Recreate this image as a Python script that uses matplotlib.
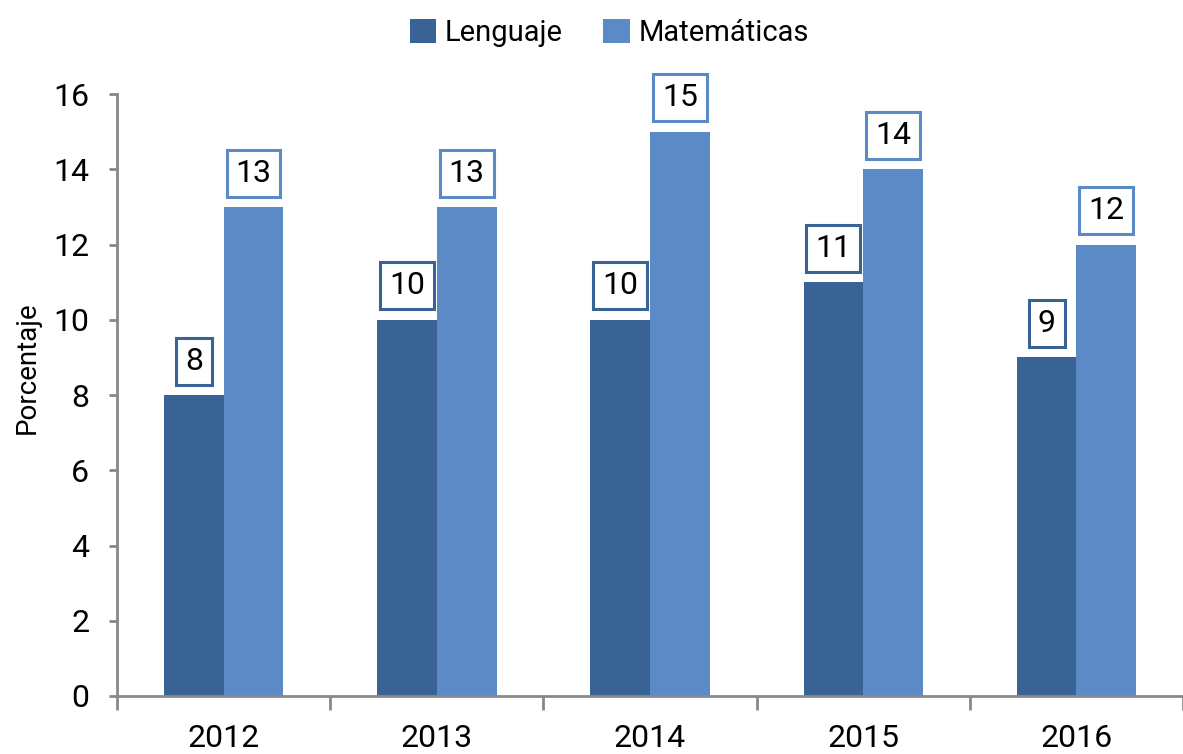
import matplotlib.pyplot as plt
import numpy as np

anios = ["2012", "2013", "2014", "2015", "2016"]
lenguaje = [8, 10, 10, 11, 9]
matematicas = [13, 13, 15, 14, 12]

color_len = "#3A6395"
color_mat = "#5B8AC6"

plt.rcParams['font.family'] = ['Roboto', 'DejaVu Sans']

fig = plt.figure(figsize=(11.83, 7.54), dpi=100)
ax = fig.add_axes([0.099, 0.077, 0.901, 0.798])

x = np.arange(len(anios))
ancho = 0.28
b1 = ax.bar(x - ancho / 2, lenguaje, ancho, color=color_len, label="Lenguaje")
b2 = ax.bar(x + ancho / 2, matematicas, ancho, color=color_mat, label="Matemáticas")

# etiquetas de valor en recuadros
for barras, valores, col in [(b1, lenguaje, color_len), (b2, matematicas, color_mat)]:
    for rect, v in zip(barras, valores):
        ax.annotate(str(v), (rect.get_x() + rect.get_width() / 2, v),
                    xytext=(0, 14), textcoords="offset points",
                    ha="center", va="bottom", fontsize=23,
                    bbox=dict(boxstyle="square,pad=0.28",
                              fc="white", ec=col, lw=2.2))

ax.set_xlim(-0.5, len(anios) - 0.5)
ax.set_ylim(0, 16)
ax.set_yticks(range(0, 17, 2))
ax.tick_params(axis="y", labelsize=23, length=6, width=2, color="#888888", pad=14)
ax.set_xticks(x)
ax.set_xticklabels(anios)
ax.set_xticks(np.arange(-0.5, len(anios), 1), minor=True)
ax.tick_params(axis="x", which="major", length=0, labelsize=23, pad=20)
ax.tick_params(axis="x", which="minor", length=10, width=2, color="#888888")
ax.set_ylabel("Porcentaje", fontsize=20)
ax.yaxis.set_label_coords(-0.072, 0.545)

for s in ["top", "right"]:
    ax.spines[s].set_visible(False)
for s in ["left", "bottom"]:
    ax.spines[s].set_color("#888888")
    ax.spines[s].set_linewidth(2)

fig.legend(loc="upper center", bbox_to_anchor=(0.515, 1.01), ncol=2, frameon=False,
           fontsize=21, handlelength=0.9, handleheight=0.9, handletextpad=0.3,
           columnspacing=1.4)

plt.savefig("out.png", dpi=100)
